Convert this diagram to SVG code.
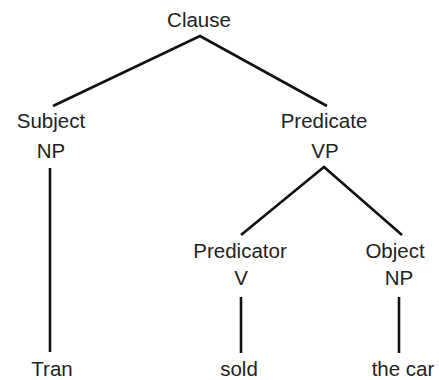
<svg xmlns="http://www.w3.org/2000/svg" width="439" height="380" viewBox="0 0 439 380">
<style>
text{font-family:"Liberation Sans",Arial,sans-serif;font-size:20.5px;fill:#222;text-anchor:middle}
.e{stroke:#111;stroke-width:2.6;fill:none;stroke-linecap:butt}
</style>
<rect width="439" height="380" fill="#fff"/>
<g id="connectors">
<polyline class="e" points="53,106 200,36 327,106"/>
<polyline class="e" points="241,235 324,167 402,235"/>
<line class="e" x1="50" y1="168" x2="50" y2="352"/>
<line class="e" x1="241" y1="297" x2="241" y2="353"/>
<line class="e" x1="399" y1="297" x2="399" y2="353"/>
</g>
<g id="clause"><text x="199" y="27">Clause</text></g>
<g id="subject"><text x="51" y="128">Subject</text><text x="51" y="158">NP</text></g>
<g id="predicate"><text x="324" y="128">Predicate</text><text x="325" y="158">VP</text></g>
<g id="predicator"><text x="240" y="258">Predicator</text><text x="241" y="285">V</text></g>
<g id="object"><text x="395" y="258">Object</text><text x="399" y="285">NP</text></g>
<g id="tran"><text x="52" y="376">Tran</text></g>
<g id="sold"><text x="239" y="376">sold</text></g>
<g id="thecar"><text x="403" y="376">the car</text></g>
</svg>
